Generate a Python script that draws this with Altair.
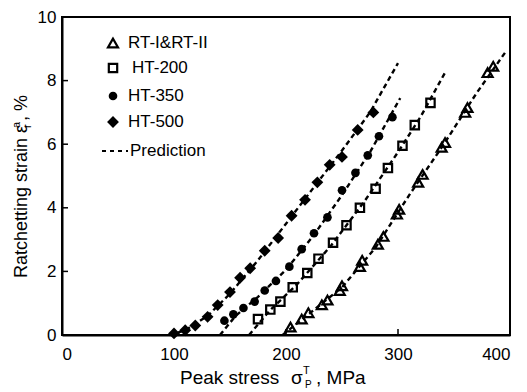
import altair as alt
import pandas as pd

# Measured ratchetting strain (%) against peak stress (MPa)
rt_x = [204, 214, 220, 232, 237, 248, 250, 266, 268, 282, 287, 299, 301, 318, 322, 339, 342, 360, 362, 380, 385]
rt_y = [0.25, 0.5, 0.7, 0.95, 1.1, 1.4, 1.55, 2.15, 2.35, 2.85, 3.1, 3.8, 3.95, 4.8, 5.05, 5.9, 6.05, 7.0, 7.15, 8.25, 8.45]

ht200_x = [175, 186, 195, 206, 219, 229, 242, 254, 266, 280, 291, 304, 315, 329]
ht200_y = [0.5, 0.8, 1.05, 1.5, 1.95, 2.4, 2.9, 3.45, 4.0, 4.6, 5.25, 5.95, 6.6, 7.3]

ht350_x = [145, 153, 162, 172, 181, 191, 203, 214, 225, 237, 250, 262, 273, 283, 295]
ht350_y = [0.45, 0.65, 0.85, 1.05, 1.4, 1.7, 2.15, 2.7, 3.2, 3.7, 4.55, 5.1, 5.65, 6.25, 6.85]

ht500_x = [100, 110, 119, 130, 139, 150, 159, 168, 181, 193, 205, 217, 228, 239, 250, 264, 278]
ht500_y = [0.05, 0.15, 0.3, 0.57, 0.94, 1.35, 1.8, 2.1, 2.65, 3.05, 3.75, 4.25, 4.8, 5.35, 5.6, 6.45, 7.0]

# Predicted curves
pred_rt_x = [197, 220, 250, 280, 310, 340, 370, 396]
pred_rt_y = [0, 0.65, 1.5, 2.75, 4.4, 5.95, 7.6, 8.9]
pred_200_x = [167, 185, 210, 240, 270, 300, 320, 342]
pred_200_y = [0, 0.75, 1.6, 2.8, 4.2, 5.75, 6.85, 8.25]
pred_350_x = [141, 155, 175, 200, 225, 250, 275, 302]
pred_350_y = [0, 0.6, 1.2, 2.05, 3.15, 4.4, 5.75, 7.45]
pred_500_x = [96, 110, 130, 150, 175, 200, 225, 250, 275, 300]
pred_500_y = [0, 0.15, 0.6, 1.3, 2.35, 3.5, 4.65, 5.8, 7.0, 8.55]

x_ticks = [0, 100, 200, 300, 400]
y_ticks = [0, 2, 4, 6, 8, 10]

legend_labels = ["RT-I&RT-II", "HT-200", "HT-350", "HT-500", "Prediction"]

FONT = "Liberation Sans"
W, H = 448, 318


def frame(xs, ys, name):
    return pd.DataFrame({"stress": xs, "strain": ys, "series": name})


pts_rt = frame(rt_x, rt_y, "RT")
pts_200 = frame(ht200_x, ht200_y, "HT-200")
pts_350 = frame(ht350_x, ht350_y, "HT-350")
pts_500 = frame(ht500_x, ht500_y, "HT-500")
pred = pd.concat([
    frame(pred_rt_x, pred_rt_y, "RT"),
    frame(pred_200_x, pred_200_y, "HT-200"),
    frame(pred_350_x, pred_350_y, "HT-350"),
    frame(pred_500_x, pred_500_y, "HT-500"),
])

xs = alt.Scale(domain=[0, 400], nice=False, zero=False)
ys = alt.Scale(domain=[0, 10], nice=False, zero=False)

x_enc = alt.X("stress:Q", scale=xs, axis=alt.Axis(values=x_ticks, title=None))
y_enc = alt.Y("strain:Q", scale=ys, axis=alt.Axis(values=y_ticks, title=None))

lines = alt.Chart(pred).mark_line(
    color="black", strokeWidth=2.4, strokeDash=[5, 3.5]
).encode(x=x_enc, y=y_enc, detail="series:N", order="stress:Q")

SYM = {
    "tri": dict(shape="triangle-up", filled=False, size=100),
    "sq": dict(shape="square", filled=False, size=70),
    "circ": dict(shape="circle", filled=True, size=75),
    "dia": dict(shape="diamond", filled=True, size=140),
}


def points(df, key):
    return alt.Chart(df).mark_point(
        color="black", strokeWidth=2.2, opacity=1, **SYM[key]
    ).encode(x=x_enc, y=y_enc)


tri = points(pts_rt, "tri")
sq = points(pts_200, "sq")
circ = points(pts_350, "circ")
dia = points(pts_500, "dia")

# inward tick marks
xt = pd.DataFrame({"stress": [100, 200, 300]})
x_tick_marks = alt.Chart(xt).mark_rule(color="black", strokeWidth=1.5).encode(
    x=alt.X("stress:Q", scale=xs), y=alt.value(H), y2=alt.value(H - 6)
)
yt = pd.DataFrame({"strain": [2, 4, 6, 8]})
y_tick_marks = alt.Chart(yt).mark_rule(color="black", strokeWidth=1.5).encode(
    y=alt.Y("strain:Q", scale=ys), x=alt.value(0), x2=alt.value(6)
)

# legend
anchor = pd.DataFrame({"k": [0]})
leg_x_sym = 51
leg_x_txt = [66, 70, 66, 66, 68]
leg_rows = [26, 51, 79, 105, 134]


def leg_text(label, x, row):
    return alt.Chart(anchor).mark_text(
        text=label, font=FONT, fontSize=17, align="left", baseline="middle", color="black"
    ).encode(x=alt.value(x), y=alt.value(row))


def leg_sym(key, row):
    return alt.Chart(anchor).mark_point(
        color="black", strokeWidth=2.2, opacity=1, **SYM[key]
    ).encode(x=alt.value(leg_x_sym), y=alt.value(row))


legend = [
    leg_sym("tri", leg_rows[0]),
    leg_sym("sq", leg_rows[1]),
    leg_sym("circ", leg_rows[2]),
    leg_sym("dia", leg_rows[3]),
    alt.Chart(anchor).mark_rule(color="black", strokeWidth=2.2, strokeDash=[4, 4]).encode(
        x=alt.value(40), x2=alt.value(66), y=alt.value(leg_rows[4])
    ),
]
legend += [leg_text(lab, x, r) for lab, x, r in zip(legend_labels, leg_x_txt, leg_rows)]


# axis titles with super/subscripts
def txt(s, x, y, size=18, angle=0, align="left"):
    kw = dict(text=s, font=FONT, fontSize=size, align=align, baseline="alphabetic", color="black")
    if angle:
        kw["angle"] = angle
    return alt.Chart(anchor).mark_text(**kw).encode(x=alt.value(x), y=alt.value(y))


# x title (plot-relative coordinates: origin at top-left of plot area)
titles = [
    txt("Peak stress", 118, 367, size=19),
    txt("σ", 229, 367, size=19),
    txt("T", 241, 357, size=11),
    txt("P", 243, 371, size=10),
    txt(", MPa", 254, 367, size=19),
    # y title, reading upward
    txt("Ratchetting strain ε", -35, 261, angle=270),
    txt("a", -42, 111, size=11, angle=270),
    txt("r", -31, 111, size=11, angle=270),
    txt(" , %", -35, 104, angle=270),
]

chart = alt.layer(
    lines, tri, sq, circ, dia, x_tick_marks, y_tick_marks, *legend, *titles
).properties(
    width=W, height=H,
    autosize=alt.AutoSizeParams(type="none"),
    padding={"left": 62, "top": 17, "right": 17, "bottom": 57},
).configure_view(
    stroke="black", strokeWidth=2
).configure_axis(
    grid=False, domainColor="black", domainWidth=2, tickSize=0,
    labelFont=FONT, labelFontSize=17, labelColor="black", labelPadding=11,
).configure_axisY(labelPadding=6)

chart.save("out.html", embed_options={"renderer": "svg", "actions": False})
